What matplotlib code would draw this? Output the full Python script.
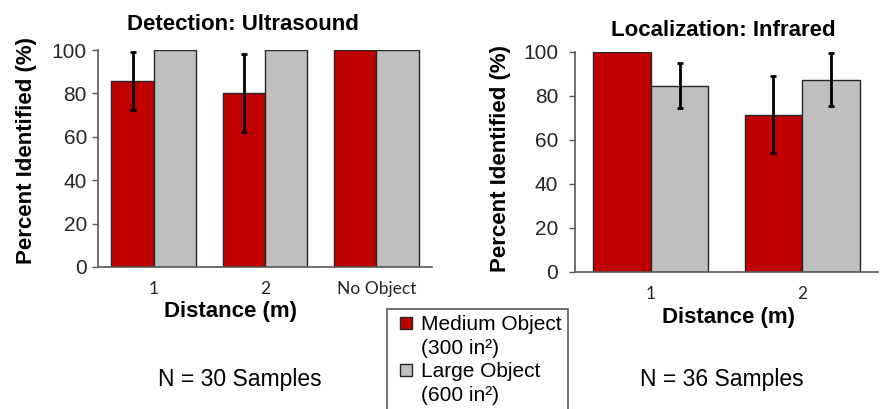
import matplotlib
matplotlib.use("Agg")
import matplotlib.pyplot as plt
from matplotlib.lines import Line2D
import numpy as np

# ---- data ----
det_categories = ["1", "2", "No Object"]
det_medium = [85.7, 80.0, 100.0]
det_medium_err = [13.3, 18.0, 0.0]
det_large = [100.0, 100.0, 100.0]
det_large_err = [0.0, 0.0, 0.0]

loc_categories = ["1", "2"]
loc_medium = [100.0, 71.4]
loc_medium_err = [0.0, 17.4]
loc_large = [84.6, 87.3]
loc_large_err = [10.1, 11.9]

series_labels = ["Medium Object", "(300 in²)", "Large Object", "(600 in²)"]
yticks = [0, 20, 40, 60, 80, 100]

RED = "#C00000"
GRAY = "#BFBFBF"
EDGE = "#262626"
SPINE = "#595959"

W, H = 885, 409
fig = plt.figure(figsize=(W / 100, H / 100), dpi=100)
fig.patch.set_facecolor("white")

def px(x, y):
    return x / W, 1 - y / H

FONT = "Liberation Sans"

def make_axes(rect, cats, med, med_err, lar, lar_err, ypad):
    ax = fig.add_axes(rect)
    x = np.arange(len(cats))
    bw = 0.38
    ax.bar(x - bw / 2, med, bw, color=RED, edgecolor=EDGE, linewidth=1, zorder=2)
    ax.bar(x + bw / 2, lar, bw, color=GRAY, edgecolor=EDGE, linewidth=1, zorder=2)
    for xs, vals, errs in ((x - bw / 2, med, med_err), (x + bw / 2, lar, lar_err)):
        idx = [i for i, e in enumerate(errs) if e > 0]
        if idx:
            ax.errorbar(xs[idx], np.array(vals)[idx], yerr=np.array(errs)[idx],
                        fmt="none", ecolor="black", elinewidth=2, capsize=2.5,
                        capthick=2, zorder=3)
    ax.set_xlim(-0.5, len(cats) - 0.5)
    ax.set_ylim(0, 100)
    ax.set_yticks(yticks)
    ax.set_yticklabels([str(t) for t in yticks], fontsize=15, family=FONT, color="#262626")
    ax.set_xticks(x)
    ax.set_xticklabels(cats, fontsize=12.5, family="Lato", color="#262626")
    ax.tick_params(axis="x", length=0, pad=10)
    ax.tick_params(axis="y", length=4, width=1, color=SPINE, direction="out", pad=ypad)
    for s in ("top", "right"):
        ax.spines[s].set_visible(False)
    for s in ("left", "bottom"):
        ax.spines[s].set_color(SPINE)
        ax.spines[s].set_linewidth(1.2)
        ax.spines[s].set_zorder(4)
    return ax

ax1 = make_axes([98 / W, (H - 267) / H, 334 / W, 217 / H],
                det_categories, det_medium, det_medium_err, det_large, det_large_err, 4)
ax2 = make_axes([575 / W, (H - 271.7) / H, 303 / W, 220 / H],
                loc_categories, loc_medium, loc_medium_err, loc_large, loc_large_err, 8)

# titles
fig.text(*px(243, 30), "Detection: Ultrasound", ha="center", va="baseline",
         fontsize=16, fontweight="bold", family=FONT)
fig.text(*px(723, 36), "Localization: Infrared", ha="center", va="baseline",
         fontsize=16, fontweight="bold", family=FONT)

# y labels
fig.text(*px(27, 150), "Percent Identified (%)", ha="center", va="center", rotation=90,
         fontsize=16, fontweight="bold", family=FONT)
fig.text(*px(501, 159), "Percent Identified (%)", ha="center", va="center", rotation=90,
         fontsize=16, fontweight="bold", family=FONT)

# x labels
fig.text(*px(230, 317), "Distance (m)", ha="center", va="baseline",
         fontsize=16, fontweight="bold", family=FONT)
fig.text(*px(728, 323), "Distance (m)", ha="center", va="baseline",
         fontsize=16, fontweight="bold", family=FONT)

# sample counts
fig.text(*px(240, 386), "N = 30 Samples", ha="center", va="baseline",
         fontsize=16.5, family=FONT)
fig.text(*px(722, 386), "N = 36 Samples", ha="center", va="baseline",
         fontsize=16.5, family=FONT)

# legend
def sq(color):
    return Line2D([], [], marker="s", linestyle="none", markersize=8,
                  markerfacecolor=color, markeredgecolor=EDGE, markeredgewidth=1)

blank = Line2D([], [], linestyle="none", marker=None)
handles = [sq(RED), blank, sq(GRAY), blank]
leg = fig.legend(handles, series_labels, loc="upper left",
                 bbox_to_anchor=px(387, 309), borderaxespad=0,
                 prop={"family": FONT, "size": 15}, frameon=True, fancybox=False,
                 framealpha=1, edgecolor=SPINE, handlelength=1.2, handleheight=0.6,
                 handletextpad=0.15, labelspacing=0.22, borderpad=0.3)
leg.get_frame().set_linewidth(1.2)

fig.savefig("out.png", dpi=100)
